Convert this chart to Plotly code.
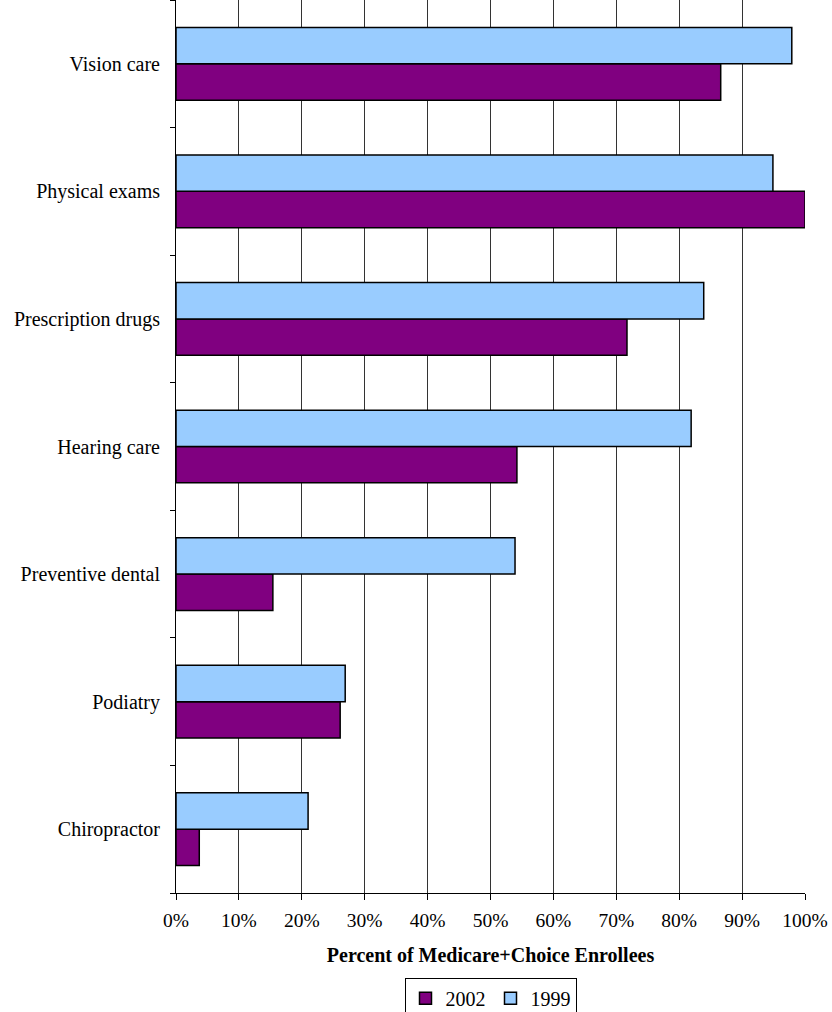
import plotly.graph_objects as go

categories = ["Chiropractor", "Podiatry", "Preventive dental", "Hearing care",
              "Prescription drugs", "Physical exams", "Vision care"]
vals_2002 = [3.7, 26.1, 15.4, 54.2, 71.7, 100.0, 86.6]
vals_1999 = [21.0, 26.9, 53.9, 81.9, 83.9, 94.9, 97.9]
x_ticks = [0, 10, 20, 30, 40, 50, 60, 70, 80, 90, 100]
x_tick_labels = [f"{v}%" for v in x_ticks]

font_family = "'Liberation Serif', 'Times New Roman', serif"

fig = go.Figure()
fig.add_trace(go.Bar(y=categories, x=vals_2002, orientation="h", name="2002",
                     marker=dict(color="#800080", line=dict(color="black", width=1.5))))
fig.add_trace(go.Bar(y=categories, x=vals_1999, orientation="h", name="1999",
                     marker=dict(color="#99CCFF", line=dict(color="black", width=1.5))))

fig.update_layout(
    width=832, height=1012,
    margin=dict(l=176, r=27, t=0, b=119, autoexpand=False),
    barmode="group", bargap=0.43, bargroupgap=0,
    plot_bgcolor="white", paper_bgcolor="white",
    font=dict(family=font_family, size=20, color="black"),
    legend=dict(orientation="h", x=0.5, y=-0.095, xanchor="center", yanchor="top",
                bordercolor="black", borderwidth=1, font=dict(family=font_family, size=20),
                itemwidth=30, tracegroupgap=0),
    xaxis=dict(range=[0, 100], tickvals=x_ticks, ticktext=x_tick_labels,
               showgrid=True, gridcolor="#333333", gridwidth=1,
               showline=True, linecolor="black", linewidth=1,
               ticks="outside", ticklen=6, tickcolor="black",
               tickfont=dict(size=19.5),
               zeroline=False, automargin=False, ticklabelstandoff=4,
               title=dict(text="<b>Percent of Medicare+Choice Enrollees</b>",
                          font=dict(family=font_family, size=20), standoff=17)),
    yaxis=dict(range=[-0.5, 6.5], showline=True, linecolor="black", linewidth=1,
               ticks="outside", ticklen=5, tickson="boundaries", tickcolor="black",
               showgrid=False, ticklabelstandoff=11, automargin=False),
)

fig.write_html("out.html")
